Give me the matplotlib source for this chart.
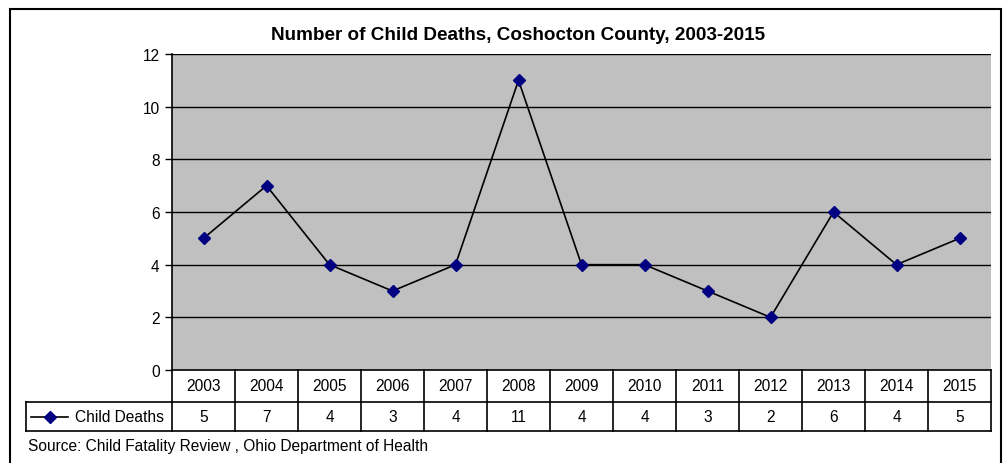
import matplotlib.pyplot as plt
import matplotlib.transforms as mtransforms
from matplotlib.lines import Line2D
from matplotlib.patches import Rectangle

plt.rcParams['font.family'] = ['Liberation Sans', 'DejaVu Sans']

years = ['2003', '2004', '2005', '2006', '2007', '2008', '2009',
         '2010', '2011', '2012', '2013', '2014', '2015']
deaths = [5, 7, 4, 3, 4, 11, 4, 4, 3, 2, 6, 4, 5]
series_name = 'Child Deaths'
title = 'Number of Child Deaths, Coshocton County, 2003-2015'
source = 'Source: Child Fatality Review , Ohio Department of Health'

W, H = 1005, 464
fs = 11.2
fig = plt.figure(figsize=(W / 100, H / 100), dpi=100)

# plot area in pixel coordinates
left, right, top, bottom = 172, 991, 55, 371
ax = fig.add_axes([left / W, 1 - bottom / H, (right - left) / W, (bottom - top) / H])
ax.set_facecolor('#C0C0C0')

x = list(range(len(years)))
ax.plot(x, deaths, color='black', lw=1.2, marker='D', ms=6.5,
        mfc='#000080', mec='#000080', zorder=3)

ax.set_xlim(-0.5, len(years) - 0.5)
ax.set_ylim(0, 12)
ax.set_yticks(range(0, 13, 2))
ax.tick_params(axis='y', direction='out', length=5, width=1, labelsize=fs, pad=4)
ax.set_xticks([])
for y in range(2, 13, 2):
    ax.axhline(y, color='black', lw=1, zorder=1)
for s in ['top', 'right', 'bottom']:
    ax.spines[s].set_visible(False)
ax.spines['left'].set_linewidth(1.2)

fig.text(518 / W, 1 - 35 / H, title, ha='center', va='center',
         fontsize=13.6, fontweight='bold')

# data table below the axes
trans = mtransforms.blended_transform_factory(ax.transData, ax.transAxes)
ph = bottom - top
r1 = -32 / ph
r2 = -61 / ph
step = (right - left) / len(years)
xl = (26 - left) / step - 0.5
xr = len(years) - 0.5
kw = dict(color='black', lw=1.2, transform=trans, clip_on=False)
ax.add_line(Line2D([-0.5, xr], [0, 0], **kw))
ax.add_line(Line2D([xl, xr], [r1, r1], **kw))
ax.add_line(Line2D([xl, xr], [r2, r2], **kw))
ax.add_line(Line2D([xl, xl], [r1, r2], **kw))
for i in range(len(years) + 1):
    ax.add_line(Line2D([i - 0.5, i - 0.5], [0, r2], **kw))
for i, (yr, v) in enumerate(zip(years, deaths)):
    ax.text(i, r1 / 2, yr, ha='center', va='center', fontsize=fs, transform=trans)
    ax.text(i, (r1 + r2) / 2, str(v), ha='center', va='center', fontsize=fs, transform=trans)

# legend key in the table
kx0 = (31 - left) / step - 0.5
kx1 = (68 - left) / step - 0.5
ym = (r1 + r2) / 2
ax.add_line(Line2D([kx0, kx1], [ym, ym], **kw))
ax.add_line(Line2D([(kx0 + kx1) / 2], [ym], marker='D', ms=6.5, mfc='#000080',
                   mec='#000080', transform=trans, clip_on=False))
ax.text((75 - left) / step - 0.5, ym, series_name, ha='left', va='center',
        fontsize=fs, transform=trans)

fig.text(28 / W, 1 - 447 / H, source, ha='left', va='center', fontsize=fs)

# outer chart border (bottom edge falls outside the image)
fig.patches.append(Rectangle((10 / W, -0.05), 991 / W, 1 - 10 / H + 0.05,
                             transform=fig.transFigure, fill=False,
                             ec='black', lw=1.5))

fig.savefig('out.png', dpi=100)
